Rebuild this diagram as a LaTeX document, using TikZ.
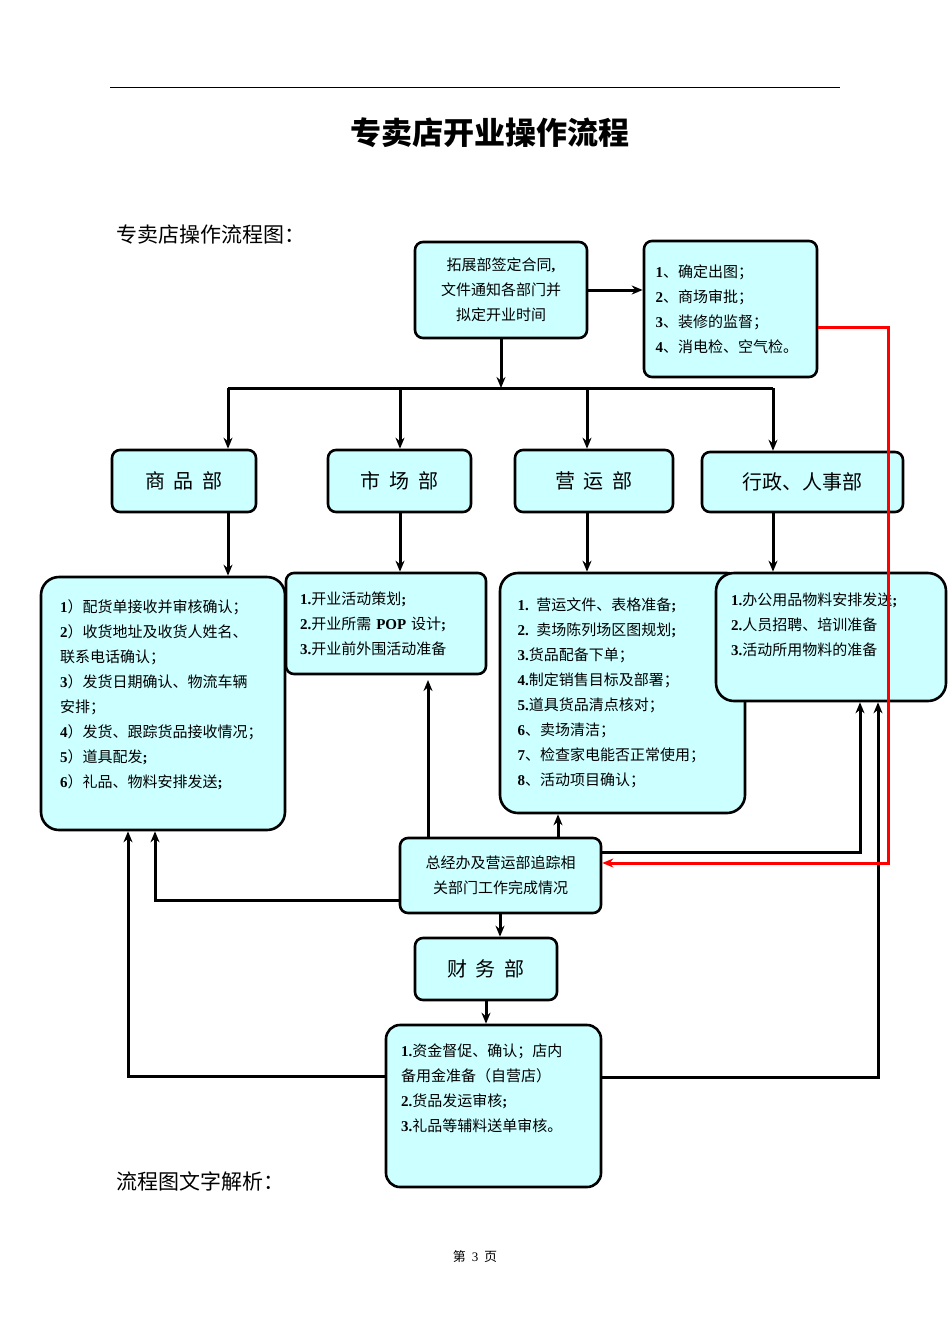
\documentclass[tikz,border=0pt]{standalone}
\usepackage{fontspec}
\setmainfont{Noto Sans CJK SC}
\newfontfamily\lat{Liberation Serif}
\usetikzlibrary{arrows.meta}
\newcommand{\nb}[1]{{\lat\bfseries #1}}
\begin{document}
\begin{tikzpicture}[x=1pt,y=-1pt,
  box/.style={draw=black,line width=2.6pt,fill={rgb,255:red,204;green,255;blue,255},rounded corners=8pt,inner sep=0pt,align=left},
  big/.style={box,rounded corners=18pt},
  dept/.style={box,align=center,font=\fontsize{20}{24}\selectfont},
  ln/.style={line width=3pt},
  ar/.style={ln,-{Stealth[length=11pt,width=9pt]}},
  txt/.style={font=\fontsize{15}{25}\selectfont}]
\useasboundingbox (0,0) rectangle (950,1344);
\draw[line width=1pt] (110,87) -- (840,87);
\node[font=\fontsize{31}{36}\selectfont\bfseries] (title) at (490,133) {专卖店开业操作流程};
\node[anchor=west,font=\fontsize{21}{24}\selectfont] (sub1) at (113,235) {专卖店操作流程图：};
\node[anchor=west,font=\fontsize{21}{24}\selectfont] (sub2) at (113,1181) {流程图文字解析：};
\node[font=\fontsize{13}{15}\selectfont] (pg) at (475,1257) {第\ \ {\lat 3}\ \ 页};

\node[box,align=center,txt,minimum width=172pt,minimum height=96pt] (top) at (501,290) {拓展部签定合同\nb{,}\\文件通知各部门并\\拟定开业时间};
\node[box,txt,minimum width=173pt,minimum height=136pt,text width=150pt] (eng) at (730.5,309) {\nb{1}、确定出图；\\\nb{2}、商场审批；\\\nb{3}、装修的监督；\\\nb{4}、消电检、空气检。};

\node[dept,minimum width=144pt,minimum height=62pt] (d1) at (184,481) {商\ \ 品\ \ 部};
\node[dept,minimum width=143pt,minimum height=62pt] (d2) at (399.5,481) {市\ \ 场\ \ 部};
\node[dept,minimum width=158pt,minimum height=62pt] (d3) at (594,481) {营\ \ 运\ \ 部};
\node[dept,minimum width=201pt,minimum height=60pt] (d4) at (802.5,482) {行政、人事部};

\node[big,txt,minimum width=244pt,minimum height=253pt,text width=206pt] (t1) at (163,703.5) {\nb{1}）配货单接收并审核确认；\\\nb{2}）收货地址及收货人姓名、\\联系电话确认；\\\nb{3}）发货日期确认、物流车辆\\安排；\\\nb{4}）发货、跟踪货品接收情况；\\\nb{5}）道具配发\nb{;}\\\nb{6}）礼品、物料安排发送\nb{;}\\[-5pt]\mbox{}};
\node[box,txt,minimum width=200pt,minimum height=101pt,text width=172pt] (t2) at (386,623.5) {\nb{1.}开业活动策划\nb{;}\\\nb{2.}开业所需 \nb{POP} 设计\nb{;}\\\nb{3.}开业前外围活动准备};
\node[big,txt,minimum width=245pt,minimum height=240pt,text width=210pt] (t3) at (622.5,693) {\nb{1.} 营运文件、表格准备\nb{;}\\\nb{2.} 卖场陈列场区图规划\nb{;}\\\nb{3.}货品配备下单；\\\nb{4.}制定销售目标及部署；\\\nb{5.}道具货品清点核对；\\\nb{6}、卖场清洁；\\\nb{7}、检查家电能否正常使用；\\\nb{8}、活动项目确认；};
\node[big,txt,minimum width=230pt,minimum height=128pt,text width=200pt] (t4) at (831,637) {\nb{1.}办公用品物料安排发送\nb{;}\\\nb{2.}人员招聘、培训准备\\\nb{3.}活动所用物料的准备\\[1pt]\mbox{}};

\node[box,align=center,txt,minimum width=201pt,minimum height=75pt] (gm) at (500.5,875.5) {总经办及营运部追踪相\\关部门工作完成情况};
\node[dept,minimum width=142pt,minimum height=62pt] (fin) at (486,969) {财\ \ 务\ \ 部};
\node[big,rounded corners=14pt,txt,minimum width=215pt,minimum height=162pt,text width=185pt] (t5) at (493.5,1106) {\nb{1.}资金督促、确认；店内\\备用金准备（自营店）\\\nb{2.}货品发运审核\nb{;}\\\nb{3.}礼品等辅料送单审核。\\[11pt]\mbox{}};

\coordinate (hub) at (501,388);
\draw[ar] (top.east) -- (eng.west |- top.east);
\draw[ar] (top.south) -- (hub);
\draw[ln] (228,388) -- (773,388);
\draw[ar] (228,388) -- (d1.north -| 228,0);
\draw[ar] (400,388) -- (d2.north -| 400,0);
\draw[ar] (587,388) -- (d3.north -| 587,0);
\draw[ar] (773,388) -- (d4.north -| 773,0);
\draw[ar] (d1.south -| 228,0) -- (t1.north -| 228,0);
\draw[ar] (d2.south -| 400,0) -- (t2.north -| 400,0);
\draw[ar] (d3.south -| 587,0) -- (t3.north -| 587,0);
\draw[ar] (d4.south -| 773,0) -- (t4.north -| 773,0);

\draw[ar] (gm.north -| 428,0) -- (428,680);
\draw[ar] (gm.north -| 558,0) -- (t3.south -| 558,0);
\draw[ar] (gm.east |- 0,852) -- (860,852) -- (t4.south -| 860,0);
\draw[ar] (gm.west |- 0,900) -- (155,900) -- (t1.south -| 155,0);
\draw[ar] (gm.south -| 500,0) -- (fin.north -| 500,0);
\draw[ar] (fin.south -| 486,0) -- (t5.north -| 486,0);
\draw[ar] (t5.west |- 0,1076) -- (128,1076) -- (t1.south -| 128,0);
\draw[ar] (t5.east |- 0,1077) -- (878,1077) -- (t4.south -| 878,0);
\draw[line width=3pt,red,-{Stealth[length=11pt,width=9pt]}] (eng.east |- 0,327) -- (888,327) -- (888,863) -- (gm.east |- 0,863);
\end{tikzpicture}
\end{document}
